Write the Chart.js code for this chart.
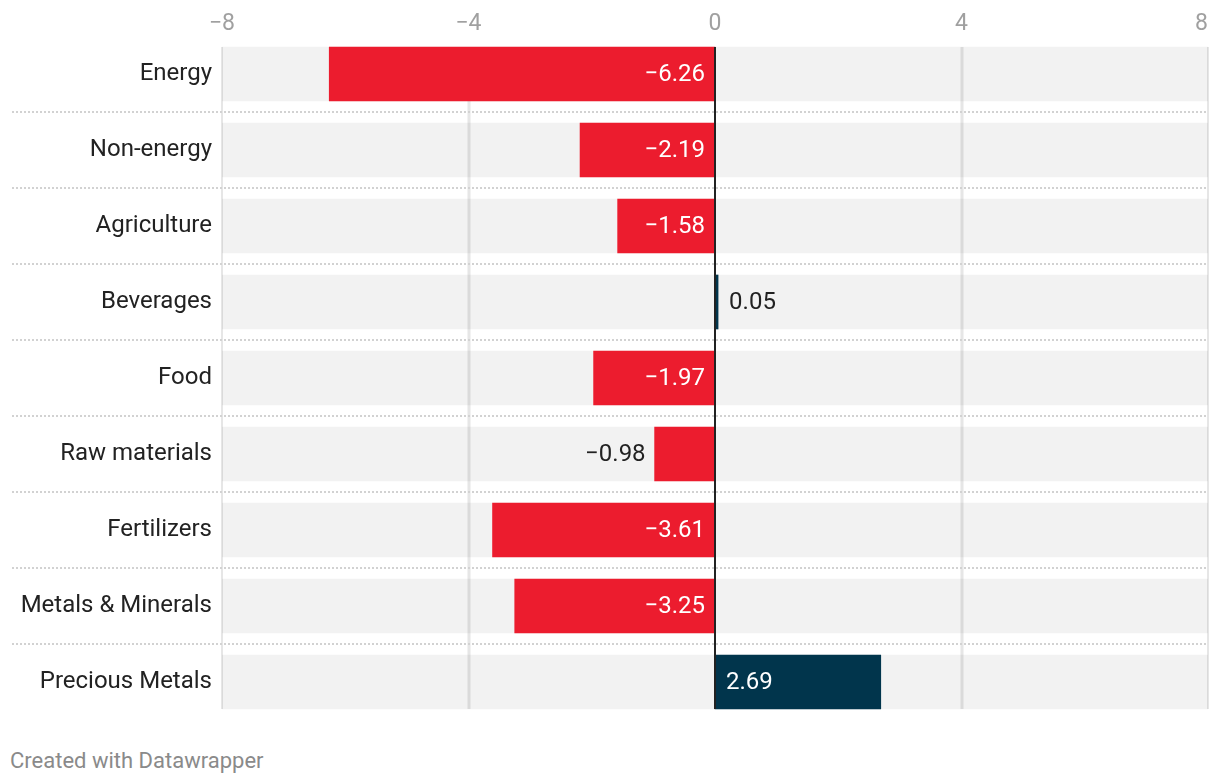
<!DOCTYPE html>
<html>
<head>
<meta charset="utf-8">
<script src="https://cdn.jsdelivr.net/npm/chart.js@4/dist/chart.umd.min.js"></script>
<style>
  body { margin: 0; background: #fff; font-family: Roboto, sans-serif; }
  #wrap { position: absolute; left: 0; top: 0; width: 1220px; height: 720px; }
  #nota { position: absolute; left: 10px; top: 748px; font-size: 22px; color: #8a8a8a; }
</style>
</head>
<body>
<div id="wrap"><canvas id="grafico" width="1220" height="720"></canvas></div>
<div id="nota">Created with Datawrapper</div>
<script>
// Datos del gráfico
const categorias = ['Energy', 'Non-energy', 'Agriculture', 'Beverages', 'Food', 'Raw materials', 'Fertilizers', 'Metals & Minerals', 'Precious Metals'];
const valores = [-6.26, -2.19, -1.58, 0.05, -1.97, -0.98, -3.61, -3.25, 2.69];
const ejeMin = -8;
const ejeMax = 8;
const ejePaso = 4;

const ROJO = '#ec1c2e';
const AZUL = '#01354c';
const menos = s => String(s).replace('-', '\u2212');

// Líneas verticales, separadores punteados, línea del cero y etiquetas de valor
const decoracion = {
    id: 'decoracion',
    beforeDatasetsDraw(chart) {
        const { ctx, scales: { x } } = chart;
        const barras = chart.getDatasetMeta(0).data;
        const arriba = barras[0].y - barras[0].height / 2;
        const abajo = barras[barras.length - 1].y + barras[barras.length - 1].height / 2;
        ctx.save();
        x.ticks.forEach(t => {
            if (t.value === 0) return;
            const px = Math.round(x.getPixelForValue(t.value));
            const borde = t.value === ejeMin || t.value === ejeMax;
            ctx.strokeStyle = borde ? '#dedede' : '#e6e6e6';
            ctx.lineWidth = borde ? 1.5 : 3;
            ctx.beginPath();
            ctx.moveTo(px, arriba);
            ctx.lineTo(px, abajo);
            ctx.stroke();
        });
        ctx.restore();
    },
    afterDatasetsDraw(chart) {
        const { ctx, chartArea, scales: { x, y } } = chart;
        const barras = chart.getDatasetMeta(0).data;
        ctx.save();
        // separadores entre filas
        ctx.strokeStyle = '#d2d2d2';
        ctx.lineWidth = 2;
        ctx.setLineDash([2, 2]);
        for (let i = 0; i < categorias.length - 1; i++) {
            const py = Math.round((y.getPixelForValue(i) + y.getPixelForValue(i + 1)) / 2);
            ctx.beginPath();
            ctx.moveTo(12, py);
            ctx.lineTo(chartArea.right, py);
            ctx.stroke();
        }
        ctx.setLineDash([]);
        // línea del cero
        const cero = x.getPixelForValue(0);
        const arriba = barras[0].y - barras[0].height / 2;
        const abajo = barras[barras.length - 1].y + barras[barras.length - 1].height / 2;
        ctx.strokeStyle = '#222';
        ctx.lineWidth = 2;
        ctx.beginPath();
        ctx.moveTo(cero, arriba);
        ctx.lineTo(cero, abajo);
        ctx.stroke();
        // etiquetas de valor
        ctx.font = '24px Roboto';
        ctx.textBaseline = 'middle';
        barras.forEach((b, i) => {
            const v = valores[i];
            const txt = menos(v.toFixed(2));
            const ancho = Math.abs(b.x - b.base);
            const cabe = ancho > ctx.measureText(txt).width + 20;
            ctx.fillStyle = cabe ? '#fff' : '#222';
            if (v < 0) {
                ctx.textAlign = 'right';
                ctx.fillText(txt, cabe ? b.base - 10 : b.x - 9, b.y + 1);
            } else {
                ctx.textAlign = 'left';
                ctx.fillText(txt, cabe ? b.base + 11 : b.x + 11, b.y + 1);
            }
        });
        ctx.restore();
    }
};

Chart.defaults.font.family = 'Roboto';

new Chart(document.getElementById('grafico').getContext('2d'), {
    type: 'bar',
    data: {
        labels: categorias,
        datasets: [
            { data: valores, backgroundColor: valores.map(v => v < 0 ? ROJO : AZUL), barThickness: 54, grouped: false, order: 1 },
            { data: categorias.map(() => [ejeMin, ejeMax]), backgroundColor: 'rgba(0,0,0,0.05)', barThickness: 54, grouped: false, order: 2 }
        ]
    },
    options: {
        indexAxis: 'y',
        responsive: false,
        animation: false,
        layout: { padding: { right: 12, bottom: 0, top: 2, left: 0 } },
        plugins: { legend: { display: false }, tooltip: { enabled: false } },
        scales: {
            x: {
                position: 'top', min: ejeMin, max: ejeMax,
                grid: { display: false, drawTicks: false }, border: { display: false },
                // la última etiqueta queda alineada al borde derecho
                ticks: { stepSize: ejePaso, color: '#a0a0a0', font: { size: 23 }, padding: -2, callback: v => v === ejeMax ? v + '\u2007' : menos(v) },
                afterFit: s => { s.height = 34; s.paddingLeft = 0; s.paddingRight = 0; }
            },
            y: {
                grid: { display: false, drawTicks: false }, border: { display: false },
                ticks: { color: '#222', font: { size: 24 }, padding: 10 },
                afterFit: s => { s.width = 222; s.paddingTop = 0; s.paddingBottom = 0; }
            }
        }
    },
    plugins: [decoracion]
});
</script>
</body>
</html>
